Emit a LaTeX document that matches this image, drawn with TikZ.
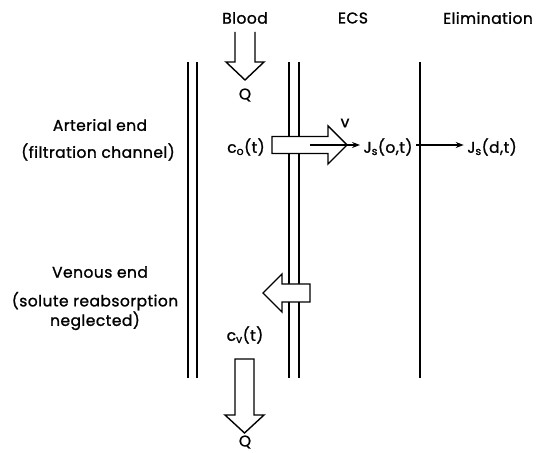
\documentclass[tikz,border=0pt]{standalone}
\usepackage{fontspec}
\setmainfont[LetterSpace=3,FakeBold=1.2]{Poppins}
\usetikzlibrary{arrows.meta,positioning}

\begin{document}
\begin{tikzpicture}[x=1pt, y=1pt, font=\fontsize{15.5}{18}\selectfont,
  wall/.style={line width=1.4pt},
  fat/.style={draw, line width=1.4pt, fill=white, line join=miter},
  flux/.style={-{Stealth[length=8pt,width=6pt]}, line width=1.1pt}]
  \useasboundingbox (0,0) rectangle (540,452);
  % column headings
  \node (blood) at (245,434) {Blood};
  \node (ecs) at (353,434) {ECS};
  \node (elim) at (488,434) {Elimination};
  % capillary walls and elimination boundary
  \foreach \x in {188,197,289,299,420}
    \draw[wall] (\x,74) -- (\x,390);
  % blood in and out
  \draw[fat] (235,420) -- (235,390) -- (226,390) -- (245,372) -- (264,390)
    -- (255,390) -- (255,420);
  \node (qin) at (245,357) {Q};
  \node (cv) at (245,117) {c\textsubscript{v}(t)};
  \draw[fat] (235,93) -- (235,37) -- (225,37) -- (244.5,19) -- (264,37)
    -- (254,37) -- (254,93) -- cycle;
  \node[inner sep=0pt] (qout) at (245,10) {Q};
  % arterial end
  \node (art) at (100,327) {Arterial end};
  \node (filt) at (98,300) {(filtration channel)};
  \draw[fat] (272,298.5) -- (272,315.5) -- (328,315.5) -- (328,326) -- (347,307)
    -- (328,288) -- (328,298.5) -- cycle;
  \node (c0) at (246,305) {c\textsubscript{o}(t)};
  \node (v) at (345,329) {v};
  \coordinate (vstart) at (310,307);
  \node (jso) at (388,305) {J\textsubscript{s}(o,t)};
  \node (jsd) at (492,305) {J\textsubscript{s}(d,t)};
  \draw[flux] (vstart) -- (vstart -| jso.west);
  \draw[flux] (jso.east |- vstart) -- (jsd.west |- vstart);
  % venous end
  \node (ven) at (100,180) {Venous end};
  \node[align=center] (reab) at (95,141) {(solute reabsorption\\neglected)};
  \draw[fat] (310,150) -- (282,150) -- (282,140) -- (263,159) -- (282,178)
    -- (282,168) -- (310,168) -- cycle;
\end{tikzpicture}
\end{document}
